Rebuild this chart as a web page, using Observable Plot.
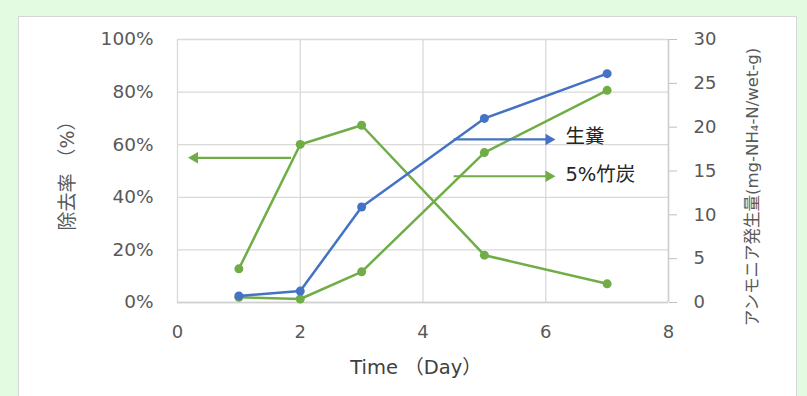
<!DOCTYPE html>
<html><head><meta charset="utf-8">
<script src="https://cdn.jsdelivr.net/npm/d3@7"></script>
<script src="https://cdn.jsdelivr.net/npm/@observablehq/plot@0.6"></script>
<style>
html,body{margin:0;padding:0;background:#e3fbe0;width:807px;height:396px;overflow:hidden;}
#panel{position:absolute;left:18px;top:16px;width:777px;height:400px;background:#fff;border:1px solid #d6d6d6;}
#chart{position:absolute;left:0;top:0;}
</style></head><body><div id="panel"></div><div id="chart"></div>
<script>
const days = [1, 2, 3, 5, 7];
const removalRate = [12.8, 60.1, 67.4, 18.0, 7.1];        // 除去率 (%), left axis
const ammoniaRaw = [0.75, 1.3, 10.9, 21.0, 26.1];         // 生糞, right axis
const ammoniaCharcoal = [0.6, 0.4, 3.5, 17.1, 24.2];      // 5%竹炭, right axis
const xTicks = [0, 2, 4, 6, 8];
const leftTicks = [0, 20, 40, 60, 80, 100];
const rightTicks = [0, 5, 10, 15, 20, 25, 30];
const seriesNames = ["生糞", "5%竹炭"];
const xTitle = "Time （Day）";
const leftTitle = "除去率 （%）";
const rightTitle = "アンモニア発生量(mg-NH₄-N/wet-g)";
// annotation arrows in data units (x: day, y: left-axis %)
const annoArrows = [
  {x1: 4.5, x2: 6.05, y: 62, c: "#4472C4"},
  {x1: 4.5, x2: 6.05, y: 48, c: "#70AD47"},
  {x1: 1.85, x2: 0.28, y: 55, c: "#70AD47"}
];
const annoLabels = [
  {x: 6.32, y: 63, text: seriesNames[0]},
  {x: 6.32, y: 48.5, text: seriesNames[1]}
];

const k = 100 / 30;
const blue = "#4472C4", green = "#70AD47";
const rem = days.map((d, i) => ({x: d, y: removalRate[i]}));
const raw = days.map((d, i) => ({x: d, y: ammoniaRaw[i] * k}));
const chr = days.map((d, i) => ({x: d, y: ammoniaCharcoal[i] * k}));
const font = "'DejaVu Sans', 'Noto Sans CJK JP', sans-serif";

const chart = Plot.plot({
  width: 807, height: 396,
  marginLeft: 177, marginRight: 139, marginTop: 39, marginBottom: 94,
  style: {background: "transparent", fontFamily: font},
  x: {domain: [0, 8]},
  y: {domain: [0, 100]},
  marks: [
    Plot.gridX(xTicks, {stroke: "#d9d9d9", strokeOpacity: 1, strokeWidth: 1.3}),
    Plot.gridY(leftTicks, {stroke: "#d9d9d9", strokeOpacity: 1, strokeWidth: 1.3}),
    Plot.ruleY([0], {stroke: "#cfcfcf", strokeWidth: 1.5}),
    Plot.axisX(xTicks, {tickSize: 0, tickPadding: 23, fontSize: 18, fill: "#595959", label: null}),
    Plot.axisY(leftTicks, {anchor: "left", tickSize: 0, tickPadding: 24, fontSize: 18.5, fill: "#595959", tickFormat: d => d + "%", label: null}),
    Plot.axisY(rightTicks.map(v => v * k), {anchor: "right", tickSize: 8, tickPadding: 17, fontSize: 18, fill: "#595959", stroke: "#bfbfbf", tickFormat: d => String(Math.round(d / k)), label: null}),
    Plot.ruleX([8], {stroke: "#cfcfcf", strokeWidth: 1.5}),
    Plot.line(rem, {x: "x", y: "y", stroke: green, strokeWidth: 2.5}),
    Plot.dot(rem, {x: "x", y: "y", fill: green, r: 4.5}),
    Plot.line(chr, {x: "x", y: "y", stroke: green, strokeWidth: 2.5}),
    Plot.dot(chr, {x: "x", y: "y", fill: green, r: 4.5}),
    Plot.line(raw, {x: "x", y: "y", stroke: blue, strokeWidth: 2.5}),
    Plot.dot(raw, {x: "x", y: "y", fill: blue, r: 4.5}),
    Plot.link(annoArrows, {x1: "x1", x2: "x2", y1: "y", y2: "y", stroke: "c", strokeWidth: 2.2}),
    Plot.dot(annoArrows, {x: "x2", y: "y", fill: "c", symbol: "triangle2", r: 5.5, rotate: d => d.x2 > d.x1 ? 90 : -90}),
    Plot.text(annoLabels, {x: "x", y: "y", text: "text", textAnchor: "start", fontSize: 19.5, fill: "#262626"}),
    Plot.text([xTitle], {frameAnchor: "bottom", lineAnchor: "middle", dx: -7, dy: 65, fontSize: 19.5, fill: "#404040"}),
    Plot.text([leftTitle], {frameAnchor: "left", textAnchor: "middle", dx: -110, rotate: -90, fontSize: 19, fill: "#595959"}),
    Plot.text([rightTitle], {frameAnchor: "right", textAnchor: "middle", dx: 84, dy: 16, rotate: -90, fontSize: 16.5, fill: "#595959"})
  ]
});
chart.querySelectorAll("text").forEach(t => t.setAttribute("fill-opacity", 1));
document.getElementById("chart").appendChild(chart);
</script></body></html>
